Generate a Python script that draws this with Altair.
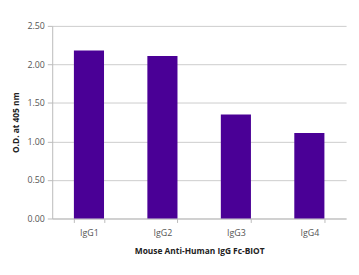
import altair as alt
import pandas as pd

categories = ["IgG1", "IgG2", "IgG3", "IgG4"]
values = [2.18, 2.11, 1.35, 1.11]
y_ticks = [0, 0.5, 1.0, 1.5, 2.0, 2.5]

df = pd.DataFrame({"cat": categories, "od": values})

FONT = "Open Sans"

bars = alt.Chart(df).mark_bar(color="#4A0096").encode(
    x=alt.X("cat:N", sort=categories,
            scale=alt.Scale(paddingInner=0.59, paddingOuter=0.295),
            axis=alt.Axis(title="Mouse Anti-Human IgG Fc-BIOT", labelAngle=0,
                          tickBand="extent", tickSize=4, tickColor="#BBBBBB",
                          domainColor="#BBBBBB", labelFont=FONT, labelFontSize=9,
                          labelColor="#555555", labelPadding=6,
                          titleFont=FONT, titleFontSize=8.5, titleFontWeight="bold",
                          titleColor="#222222", titlePadding=10)),
    y=alt.Y("od:Q", scale=alt.Scale(domain=[0, 2.5]),
            axis=alt.Axis(title="O.D. at 405 nm", values=y_ticks, format=".2f",
                          tickSize=5, tickColor="#BBBBBB", domainColor="#BBBBBB",
                          gridColor="#CCCCCC", labelFont=FONT, labelFontSize=9,
                          labelColor="#555555", labelPadding=3,
                          titleFont=FONT, titleFontSize=8.5, titleFontWeight="bold",
                          titleColor="#222222", titlePadding=6)),
)

chart = bars.properties(
    width=299, height=196,
    autosize=alt.AutoSizeParams(type="none"),
    padding={"left": 45, "top": 16, "right": 5, "bottom": 40},
).configure_view(stroke=None)

chart.save("out.html", embed_options={"renderer": "svg", "actions": False})
